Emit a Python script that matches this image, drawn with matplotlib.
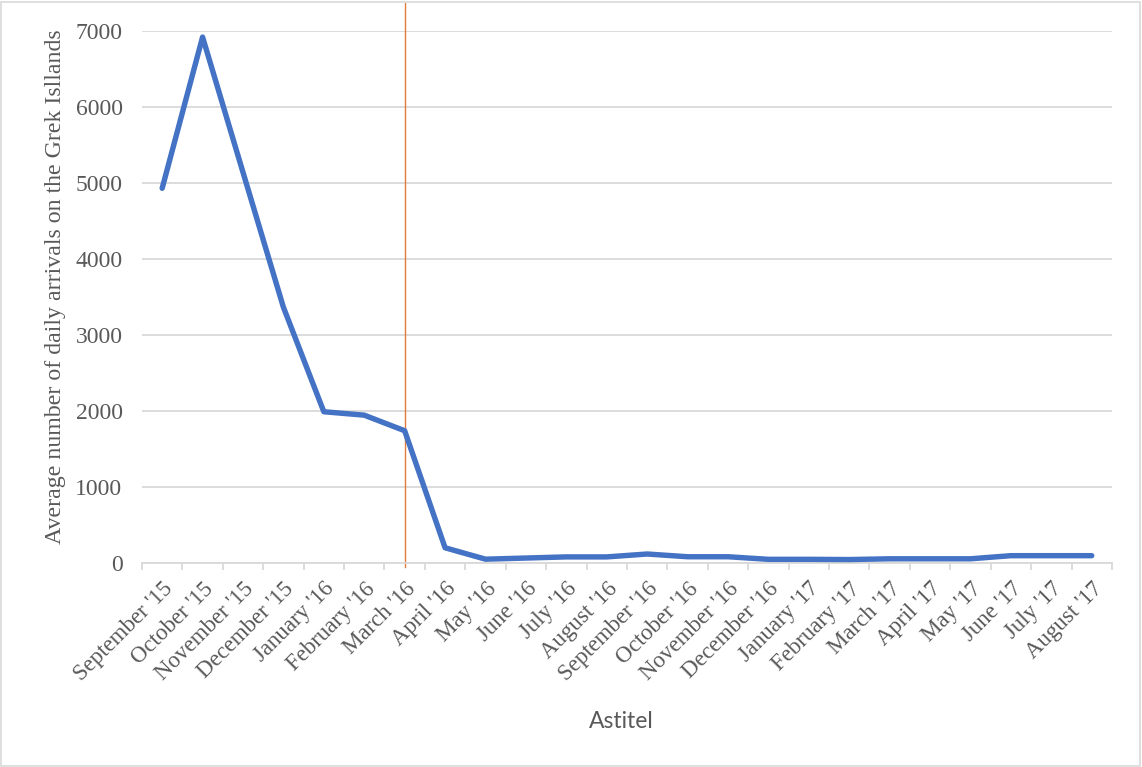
import matplotlib.pyplot as plt
from matplotlib.patches import Rectangle

months = [
    "September '15", "October '15", "November '15", "December '15",
    "January '16", "February '16", "March '16", "April '16", "May '16",
    "June '16", "July '16", "August '16", "September '16", "October '16",
    "November '16", "December '16", "January '17", "February '17",
    "March '17", "April '17", "May '17", "June '17", "July '17", "August '17",
]
arrivals = [
    4930, 6920, 5140, 3365, 1990, 1945, 1740, 200, 50, 65, 80, 80,
    118, 82, 82, 48, 48, 45, 55, 55, 55, 96, 96, 96,
]
yticks = [0, 1000, 2000, 3000, 4000, 5000, 6000, 7000]
event_month = "March '16"

TEXT = "#595959"
GRID = "#D9D9D9"
SERIF = ["Liberation Serif", "DejaVu Serif"]

fig = plt.figure(figsize=(11.42, 7.67), dpi=100)
ax = fig.add_axes([0.1243, 0.2660, 0.8494, 0.6936])

fig.patches.append(Rectangle((0.001, 0.001), 0.997, 0.996, transform=fig.transFigure,
                             fill=False, edgecolor=GRID, linewidth=1.2))

x = list(range(len(months)))
ax.plot(x, arrivals, color="#4472C4", linewidth=3.9,
        solid_capstyle="round", solid_joinstyle="round", zorder=3)

ax.axvline(months.index(event_month), ymin=-0.008, ymax=1.052, color="#E07B39",
           linewidth=1.0, clip_on=False, zorder=2)

ax.set_xlim(-0.5, len(months) - 0.5)
ax.set_ylim(0, 7000)
ax.set_yticks(yticks)
ax.set_yticklabels([str(v) for v in yticks], family=SERIF, fontsize=17, color=TEXT)
ax.set_xticks(x)
ax.set_xticklabels(months, family=SERIF, fontsize=16.5, color=TEXT,
                   rotation=45, ha="right", va="top", rotation_mode="anchor")
ax.set_xticks([i - 0.5 for i in range(len(months) + 1)], minor=True)
ax.tick_params(axis="x", which="major", length=0, pad=11)
ax.tick_params(axis="x", which="minor", length=5, width=1.3, color=GRID)
ax.tick_params(axis="y", length=0, pad=14)

ax.grid(axis="y", color=GRID, linewidth=1.3)
ax.set_axisbelow(True)
for s in ["top", "right", "left"]:
    ax.spines[s].set_visible(False)
ax.spines["bottom"].set_color(GRID)
ax.spines["bottom"].set_linewidth(1.3)

ax.set_ylabel("Average number of daily arrivals on the Grek Isllands",
              family=SERIF, fontsize=17.2, color=TEXT)
ax.yaxis.set_label_coords(-0.078, 0.519)
fig.text(0.5437, 0.0587, "Astitel", family=["Lato", "DejaVu Sans"], fontsize=16.5,
         color=TEXT, ha="center", va="center")

plt.savefig("out.png", dpi=100)
